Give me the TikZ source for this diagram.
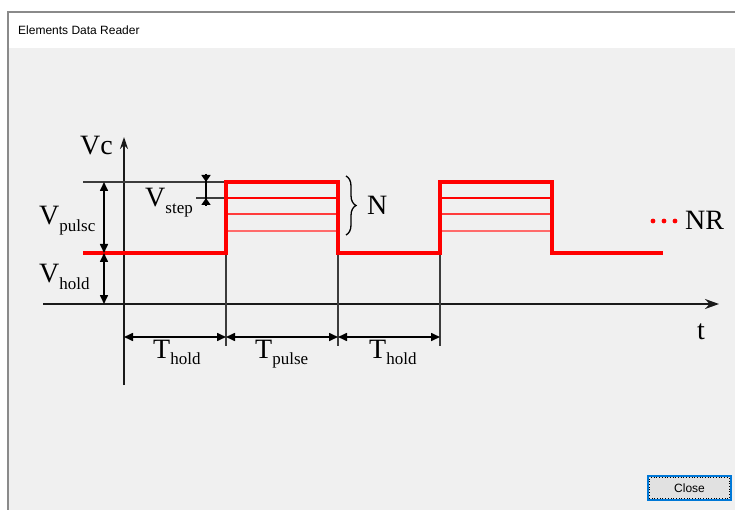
\documentclass[tikz,border=0pt]{standalone}
\usepackage{fontspec}
\setmainfont{Liberation Serif}
\newfontfamily\uifont{Liberation Sans}
\usetikzlibrary{arrows.meta,decorations.pathreplacing}
\definecolor{wingray}{HTML}{F0F0F0}
\definecolor{winborder}{HTML}{8A8A8A}
\definecolor{btnfill}{HTML}{E1E1E1}
\definecolor{btnblue}{HTML}{0078D7}
\definecolor{axisc}{HTML}{1A1A1A}
\definecolor{sigred}{HTML}{FF0000}
\definecolor{sigred2}{HTML}{FF3B3B}
\definecolor{sigred3}{HTML}{FF6A6A}
\newcommand\lowsub[1]{\raisebox{-0.22em}{\fontsize{17}{18}\selectfont #1}}
\tikzset{
  lbl/.style={inner sep=0pt, anchor=base west, font=\fontsize{28}{30}\selectfont},
  axisline/.style={draw=axisc, line width=1.8pt},
  thinline/.style={draw=axisc!85, line width=1.1pt},
  dimarrow/.style={draw=black, line width=1.6pt, {Triangle[length=9pt,width=8pt]}-{Triangle[length=9pt,width=8pt]}},
  sig/.style={draw=sigred, line width=3.2pt},
}
\begin{document}
\begin{tikzpicture}[x=1pt,y=-1pt]
\useasboundingbox (0,0) rectangle (735,510);
% window
\fill[white] (0,0) rectangle (735,510);
\fill[wingray] (8,48) rectangle (735,510);
\draw[winborder, line width=1.2pt] (8,510) -- (8,12) -- (735,12);
\node[inner sep=0pt, anchor=base west, font=\uifont\fontsize{12}{14}\selectfont] (title) at (18,35) {Elements Data Reader};

% coordinates
\coordinate (ystart) at (124,385);
\coordinate (ytip) at (124,137);
\coordinate (xstart) at (43,304);
\coordinate (xtip) at (719,304);
\coordinate (reftopL) at (83,182);
\coordinate (p1a) at (226,253);
\coordinate (p1b) at (226,182);
\coordinate (p1c) at (338,182);
\coordinate (p1d) at (338,253);
\coordinate (p2a) at (440,253);
\coordinate (p2b) at (440,182);
\coordinate (p2c) at (552,182);
\coordinate (p2d) at (552,253);
\coordinate (holdL) at (83,253);
\coordinate (holdR) at (663,253);

% axes
\draw[axisline, -{Stealth[length=12pt,width=8pt]}] (ystart) -- (ytip);
\draw[axisline, -{Stealth[length=14pt,width=10pt]}] (xstart) -- (xtip);

% reference lines
\draw[thinline] (reftopL) -- (p1b);
\coordinate (stepL) at (196,198);
\coordinate (stepR) at (226,198);
\draw[thinline] (stepL) -- (stepR);

% vertical guides
\coordinate (g1) at (226,346);
\coordinate (g2) at (338,346);
\coordinate (g3) at (440,346);
\draw[thinline] (p1a) -- (g1);
\draw[thinline] (p1d) -- (g2);
\draw[thinline] (p2a) -- (g3);

% step lines inside pulses
\foreach \xa/\xb in {226/338, 440/552}{
  \draw[draw=sigred, line width=2.4pt] (\xa,198) -- (\xb,198);
  \draw[draw=sigred2, line width=2.1pt] (\xa,214) -- (\xb,214);
  \draw[draw=sigred3, line width=1.8pt] (\xa,231) -- (\xb,231);
}
% waveform
\draw[sig, line join=miter] (holdL) -- (p1a) -- (p1b) -- (p1c) -- (p1d) -- (p2a) -- (p2b) -- (p2c) -- (p2d) -- (holdR);

% V dimension arrows
\coordinate (vpT) at (104,182);
\coordinate (vpB) at (104,253);
\coordinate (vhB) at (104,304);
\draw[dimarrow] (vpT) -- (vpB);
\draw[dimarrow] (vpB) -- (vhB);
% Vstep
\coordinate (vsT0) at (206,174);
\coordinate (vsT) at (206,182);
\coordinate (vsB) at (206,198);
\coordinate (vsB0) at (206,206);
\draw[black, line width=1.5pt] (vsT0) -- (vsB0);
\draw[black, line width=1.5pt, -{Triangle[length=7pt,width=9pt]}] (vsT0) -- (vsT);
\draw[black, line width=1.5pt, -{Triangle[length=7pt,width=9pt]}] (vsB0) -- (vsB);

% T dimension arrows
\coordinate (t0) at (124,337);
\coordinate (t1) at (226,337);
\coordinate (t2) at (338,337);
\coordinate (t3) at (440,337);
\draw[dimarrow] (t0) -- (t1);
\draw[dimarrow] (t1) -- (t2);
\draw[dimarrow] (t2) -- (t3);

% brace
\coordinate (brT) at (346,176);
\coordinate (brB) at (346,235);
\draw[black, line width=1.3pt, decorate, decoration={brace, amplitude=10pt}] (brT) -- (brB);

% labels
\node[lbl] (vc) at (80,155) {Vc};
\node[lbl] (vpulse) at (39,225) {V\lowsub{pulsc}};
\node[lbl] (vhold) at (39,283) {V\lowsub{hold}};
\node[lbl] (vstep) at (145,207) {V\lowsub{step}};
\node[lbl] (n) at (367,215) {N};
\node[lbl] (th1) at (153,358) {T\lowsub{hold}};
\node[lbl] (tp) at (255,358) {T\lowsub{pulse}};
\node[lbl] (th2) at (369,358) {T\lowsub{hold}};
\node[lbl] (t) at (697,339) {t};
\node[lbl] (nr) at (685,230) {NR};
\foreach \dx in {653,664,675}{\fill[sigred] (\dx,221) circle (2.4pt);}

% close button
\node[draw=btnblue, line width=1.4pt, fill=btnfill, minimum width=83pt, minimum height=24pt, inner sep=0pt, font=\uifont\fontsize{12}{14}\selectfont] (close) at (689.5,488) {Close};
\draw[black, line width=0.7pt, dotted] ([shift={(2.5pt,2.5pt)}]close.south west) rectangle ([shift={(-2.5pt,-2.5pt)}]close.north east);
\end{tikzpicture}
\end{document}
